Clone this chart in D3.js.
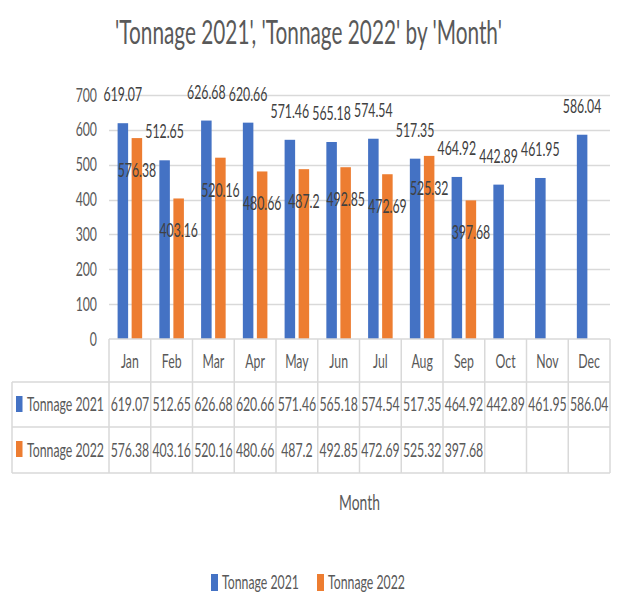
<!DOCTYPE html>
<html>
<head>
<meta charset="utf-8">
<script src="https://cdn.jsdelivr.net/npm/d3@7"></script>
<style>
  html, body { margin: 0; padding: 0; background: #fff; }
  svg { display: block; }
  text { font-family: Lato, "Open Sans", sans-serif; font-weight: 400; }
</style>
</head>
<body>
<svg id="chart" width="625" height="594"></svg>
<script>
// Monthly tonnage, two years side by side
const months = ["Jan", "Feb", "Mar", "Apr", "May", "Jun", "Jul", "Aug", "Sep", "Oct", "Nov", "Dec"];
const seriesNames = ["Tonnage 2021", "Tonnage 2022"];
const tonnage2021 = [619.07, 512.65, 626.68, 620.66, 571.46, 565.18, 574.54, 517.35, 464.92, 442.89, 461.95, 586.04];
const tonnage2022 = [576.38, 403.16, 520.16, 480.66, 487.2, 492.85, 472.69, 525.32, 397.68, null, null, null];
const yTicks = [0, 100, 200, 300, 400, 500, 600, 700];
const colors = ["#4472C4", "#ED7D31"];

const W = 625, H = 594;
const SX = 0.63;             // horizontal squeeze applied to all text
const plot = { left: 109, right: 610, top: 95, bottom: 339 };
const table = { left: 12, row0: 339, row1: 382, row2: 427, row3: 473 };

const svg = d3.select("#chart");
const gridColor = "#D9D9D9";
const axisText = "#595959";
const labelText = "#404040";

function txt(parent, x, y, str, size, anchor, fill) {
  return parent.append("text")
    .attr("transform", `translate(${x},${y}) scale(${SX},1)`)
    .attr("text-anchor", anchor || "middle")
    .attr("font-size", size)
    .attr("fill", fill || axisText)
    .text(str);
}

const x = d3.scaleBand().domain(months).range([plot.left, plot.right]).padding(0);
const bw = x.bandwidth();
const x1 = d3.scaleBand().domain(seriesNames)
  .range([bw * 0.206, bw * 0.794]).paddingInner(0.25);
const y = d3.scaleLinear().domain([0, 700]).range([plot.bottom, plot.top]);

// Title
txt(svg, W / 2 - 4, 44, "'Tonnage 2021', 'Tonnage 2022' by 'Month'", 33, "middle", axisText);

// Gridlines
svg.append("g").selectAll("line").data(yTicks.filter(d => d > 0)).join("line")
  .attr("x1", plot.left).attr("x2", plot.right)
  .attr("y1", d => Math.round(y(d)) + 0.5).attr("y2", d => Math.round(y(d)) + 0.5)
  .attr("stroke", gridColor).attr("stroke-width", 1.5);

// Y axis labels
const yAxis = svg.append("g");
yTicks.forEach(t => txt(yAxis, 97, y(t) + 6.5, String(t), 19.5, "end", axisText));

// Bars
const series = [tonnage2021, tonnage2022];
const bars = svg.append("g");
series.forEach((vals, si) => {
  bars.selectAll(null).data(months.map((m, i) => ({ m, v: vals[i] })).filter(d => d.v != null))
    .join("rect")
    .attr("x", d => x(d.m) + x1(seriesNames[si]))
    .attr("width", x1.bandwidth())
    .attr("y", d => y(d.v))
    .attr("height", d => y(0) - y(d.v))
    .attr("fill", colors[si]);
});

// Data labels
const labels = svg.append("g");
months.forEach((m, i) => {
  const v1 = tonnage2021[i];
  txt(labels, x(m) + x1(seriesNames[0]) + x1.bandwidth() / 2, y(v1) - 22, String(v1), 19.5, "middle", labelText);
  const v2 = tonnage2022[i];
  if (v2 != null) {
    txt(labels, x(m) + x1(seriesNames[1]) + x1.bandwidth() / 2, y(v2) + 39, String(v2), 19.5, "middle", labelText);
  }
});

// Data table under the axis
const tbl = svg.append("g").attr("stroke", gridColor).attr("stroke-width", 1.5).attr("fill", "none");
// horizontal rules
tbl.append("line").attr("x1", plot.left).attr("x2", plot.right).attr("y1", table.row0).attr("y2", table.row0);
[table.row1, table.row2, table.row3].forEach(yy =>
  tbl.append("line").attr("x1", table.left).attr("x2", plot.right).attr("y1", yy).attr("y2", yy));
// vertical rules
months.forEach(m => tbl.append("line").attr("x1", x(m)).attr("x2", x(m)).attr("y1", table.row0).attr("y2", table.row3));
tbl.append("line").attr("x1", plot.right).attr("x2", plot.right).attr("y1", table.row0).attr("y2", table.row3);
tbl.append("line").attr("x1", table.left).attr("x2", table.left).attr("y1", table.row1).attr("y2", table.row3);

const tblText = svg.append("g");
months.forEach(m => txt(tblText, x(m) + bw / 2, 368, m, 19.5, "middle", axisText));
const rowBase = [410.5, 456.5];
series.forEach((vals, si) => {
  const top = si === 0 ? table.row1 : table.row2;
  tblText.append("rect").attr("x", 16).attr("y", top + 14).attr("width", 6.5).attr("height", 16).attr("fill", colors[si]);
  txt(tblText, 27, rowBase[si], seriesNames[si], 19.5, "start", axisText);
  months.forEach((m, i) => {
    if (vals[i] != null) txt(tblText, x(m) + bw / 2, rowBase[si], String(vals[i]), 19.5, "middle", axisText);
  });
});

// Axis title
txt(svg, (plot.left + plot.right) / 2, 510, "Month", 22, "middle", axisText);

// Legend
const legend = svg.append("g");
const legendX = [211, 317];
seriesNames.forEach((name, si) => {
  legend.append("rect").attr("x", legendX[si]).attr("y", 574).attr("width", 7).attr("height", 17).attr("fill", colors[si]);
  txt(legend, legendX[si] + 11, 589, name, 19.5, "start", axisText);
});
</script>
</body>
</html>
